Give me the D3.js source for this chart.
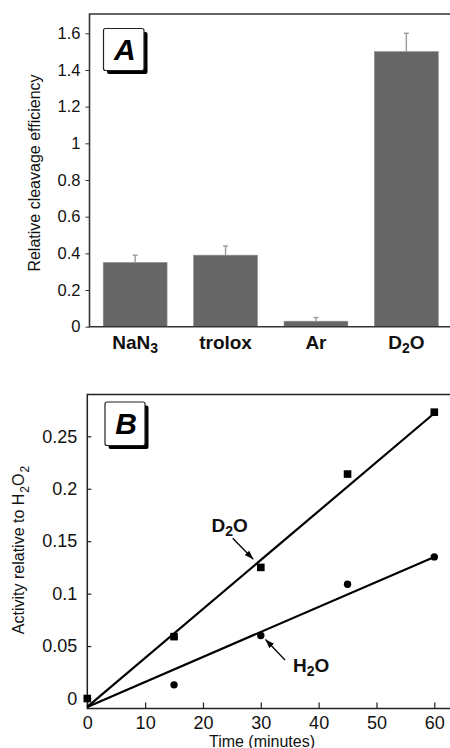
<!DOCTYPE html>
<html lang="en">
<head>
    <meta charset="UTF-8">
    <script src="https://d3js.org/d3.v7.min.js"></script>
    <title>Cleavage efficiency and activity</title>
    <style>
        body { margin: 0; background: #fff; }
        svg { display: block; font-family: "Liberation Sans", Arial, Helvetica, sans-serif; }
    </style>
</head>
<body>
    <div id="chart"></div>
    <script>
        // panel A data
        const categories = ["NaN3", "trolox", "Ar", "D2O"];
        const efficiency = [0.35, 0.39, 0.03, 1.5];
        const efficiencyErr = [0.04, 0.05, 0.02, 0.1];
        const ticksA = [0, 0.2, 0.4, 0.6, 0.8, 1, 1.2, 1.4, 1.6];

        // panel B data
        const times = [0, 15, 30, 45, 60];
        const d2oActivity = [0, 0.059, 0.125, 0.214, 0.273];
        const h2oActivity = [0, 0.013, 0.060, 0.109, 0.135];
        const d2oFit = [[0, -0.008], [60, 0.272]];
        const h2oFit = [[0, -0.008], [60, 0.135]];
        const ticksBy = [0, 0.05, 0.1, 0.15, 0.2, 0.25];
        const ticksBx = [0, 10, 20, 30, 40, 50, 60];

        const W = 450, H = 748;
        const fmt = d => String(+d.toFixed(2));

        const svg = d3.select("#chart").append("svg")
            .attr("width", W)
            .attr("height", H);

        // label with a subscript digit, e.g. "D2O" -> D<sub>2</sub>O
        function subText(sel, label, subSize) {
            const parts = label.match(/[A-Za-z]+|\d/g);
            parts.forEach((p, i) => {
                const isNum = /\d/.test(p);
                const prevNum = i > 0 && /\d/.test(parts[i - 1]);
                const t = sel.append("tspan").text(p);
                if (isNum) t.attr("font-size", subSize).attr("dy", 4);
                else if (prevNum) t.attr("dy", -4);
            });
        }

        function panelLabel(g, x, y, w, h, letter) {
            g.append("rect")
                .attr("x", x + 3.5).attr("y", y + 3.5)
                .attr("width", w).attr("height", h)
                .attr("rx", 2).attr("fill", "#000");
            g.append("rect")
                .attr("x", x).attr("y", y)
                .attr("width", w).attr("height", h)
                .attr("rx", 2).attr("fill", "#fff")
                .attr("stroke", "#222").attr("stroke-width", 1.2);
            g.append("text")
                .attr("x", x + w / 2 + 1).attr("y", y + h / 2 + 10.5)
                .attr("text-anchor", "middle")
                .attr("font-size", 30).attr("font-weight", "bold").attr("font-style", "italic")
                .text(letter);
        }

        // ---------- panel A ----------
        const A = {left: 89.5, top: 14, bottom: 326.7, right: 452};
        const gA = svg.append("g");

        const xA = d3.scaleBand()
            .domain(categories)
            .range([A.left, A.right])
            .paddingInner(0.294)
            .paddingOuter(0.152);
        const yA = d3.scaleLinear()
            .domain([0, 1.6])
            .range([A.bottom, 33.3]);

        gA.selectAll("rect.bar")
            .data(categories)
            .join("rect")
            .attr("class", "bar")
            .attr("x", d => xA(d))
            .attr("width", xA.bandwidth())
            .attr("y", (d, i) => yA(efficiency[i]))
            .attr("height", (d, i) => yA(0) - yA(efficiency[i]))
            .attr("fill", "#666")
            .attr("stroke", "#8a8a8a")
            .attr("stroke-width", 0.6);

        // error bars
        const err = gA.selectAll("g.err")
            .data(categories)
            .join("g")
            .attr("class", "err")
            .attr("stroke", "#9a9a9a")
            .attr("stroke-width", 1.4);
        err.append("line")
            .attr("x1", d => xA(d) + xA.bandwidth() / 2)
            .attr("x2", d => xA(d) + xA.bandwidth() / 2)
            .attr("y1", (d, i) => yA(efficiency[i]))
            .attr("y2", (d, i) => yA(efficiency[i] + efficiencyErr[i]));
        err.append("line")
            .attr("x1", d => xA(d) + xA.bandwidth() / 2 - 2.5)
            .attr("x2", d => xA(d) + xA.bandwidth() / 2 + 2.5)
            .attr("y1", (d, i) => yA(efficiency[i] + efficiencyErr[i]))
            .attr("y2", (d, i) => yA(efficiency[i] + efficiencyErr[i]));

        // frame
        gA.append("path")
            .attr("d", `M${W},${A.top}H${A.left}V${A.bottom}H${W}`)
            .attr("fill", "none")
            .attr("stroke", "#333")
            .attr("stroke-width", 1.6);

        const axA = gA.append("g")
            .attr("transform", `translate(${A.left},0)`)
            .call(d3.axisLeft(yA).tickValues(ticksA).tickFormat(fmt).tickSize(4).tickPadding(5));
        axA.select(".domain").remove();
        axA.selectAll(".tick line").attr("stroke", "#333");
        axA.selectAll(".tick text")
            .attr("font-family", null)
            .attr("font-size", 16.5)
            .attr("fill", "#111");

        gA.selectAll("text.cat")
            .data(categories)
            .join("text")
            .attr("class", "cat")
            .attr("x", d => xA(d) + xA.bandwidth() / 2)
            .attr("y", 349.3)
            .attr("text-anchor", "middle")
            .attr("font-size", 19)
            .attr("font-weight", "bold")
            .attr("fill", "#111")
            .each(function (d) { subText(d3.select(this), d, 14); });

        gA.append("text")
            .attr("transform", `translate(40,173) rotate(-90)`)
            .attr("text-anchor", "middle")
            .attr("font-size", 16)
            .attr("fill", "#111")
            .text("Relative cleavage efficiency");

        panelLabel(gA, 103.5, 28.5, 40.5, 42, "A");

        // ---------- panel B ----------
        const B = {left: 87.3, top: 394.5, bottom: 708.5};
        const gB = svg.append("g");

        const xB = d3.scaleLinear()
            .domain([0, 60])
            .range([87.3, 434.3]);
        const yB = d3.scaleLinear()
            .domain([0, 0.25])
            .range([698.5, 436.3]);

        gB.append("path")
            .attr("d", `M${W},${B.top}H${B.left}V${B.bottom}H${W}`)
            .attr("fill", "none")
            .attr("stroke", "#222")
            .attr("stroke-width", 1.5);

        const axBy = gB.append("g")
            .attr("transform", `translate(${B.left},0)`)
            .call(d3.axisLeft(yB).tickValues(ticksBy).tickFormat(fmt).tickSize(-4).tickPadding(10));
        axBy.select(".domain").remove();

        const axBx = gB.append("g")
            .attr("transform", `translate(0,${B.bottom})`)
            .call(d3.axisBottom(xB).tickValues(ticksBx).tickFormat(fmt).tickSize(-6).tickPadding(7.6));
        axBx.select(".domain").remove();

        gB.selectAll(".tick line").attr("stroke", "#222").attr("stroke-width", 1.2);
        gB.selectAll(".tick text")
            .attr("font-family", null)
            .attr("font-size", 18)
            .attr("fill", "#111");

        const line = d3.line()
            .x(d => xB(d[0]))
            .y(d => yB(d[1]));

        [d2oFit, h2oFit].forEach(f => {
            gB.append("path")
                .datum(f)
                .attr("d", line)
                .attr("fill", "none")
                .attr("stroke", "#000")
                .attr("stroke-width", 2.2);
        });

        gB.selectAll("rect.sq")
            .data(times)
            .join("rect")
            .attr("class", "sq")
            .attr("x", d => xB(d) - 3.8)
            .attr("y", (d, i) => yB(d2oActivity[i]) - 3.8)
            .attr("width", 7.6)
            .attr("height", 7.6)
            .attr("fill", "#000");

        gB.selectAll("circle.pt")
            .data(times.slice(1))
            .join("circle")
            .attr("class", "pt")
            .attr("cx", d => xB(d))
            .attr("cy", (d, i) => yB(h2oActivity[i + 1]))
            .attr("r", 3.7)
            .attr("fill", "#000");

        // annotations
        const defs = svg.append("defs");
        defs.append("marker")
            .attr("id", "arrow")
            .attr("viewBox", "0 0 10 10")
            .attr("refX", 10).attr("refY", 5)
            .attr("markerWidth", 9).attr("markerHeight", 9)
            .attr("markerUnits", "userSpaceOnUse")
            .attr("orient", "auto")
            .append("path")
            .attr("d", "M0,1.5L10,5L0,8.5Z")
            .attr("fill", "#000");

        gB.append("line")
            .attr("x1", 232.7).attr("y1", 538.3)
            .attr("x2", 253.3).attr("y2", 559.3)
            .attr("stroke", "#000").attr("stroke-width", 1.3)
            .attr("marker-end", "url(#arrow)");
        gB.append("line")
            .attr("x1", 285).attr("y1", 660)
            .attr("x2", 265.5).attr("y2", 639.5)
            .attr("stroke", "#000").attr("stroke-width", 1.3)
            .attr("marker-end", "url(#arrow)");

        const lblD = gB.append("text")
            .attr("x", 211.5).attr("y", 531.7)
            .attr("font-size", 19).attr("font-weight", "bold").attr("fill", "#111");
        subText(lblD, "D2O", 14);
        const lblH = gB.append("text")
            .attr("x", 293).attr("y", 671.7)
            .attr("font-size", 19).attr("font-weight", "bold").attr("fill", "#111");
        subText(lblH, "H2O", 14);

        // y title with subscripts
        const yt = gB.append("text")
            .attr("transform", `translate(24,550) rotate(-90)`)
            .attr("text-anchor", "middle")
            .attr("font-size", 16)
            .attr("fill", "#111");
        yt.append("tspan").text("Activity relative to H");
        yt.append("tspan").attr("font-size", 12).attr("dy", 5).attr("dx", 1).text("2");
        yt.append("tspan").attr("dy", -5).text("O");
        yt.append("tspan").attr("font-size", 12).attr("dy", 5).attr("dx", 1).text("2");

        gB.append("text")
            .attr("x", 262).attr("y", 746.5)
            .attr("text-anchor", "middle")
            .attr("font-size", 16)
            .attr("fill", "#111")
            .text("Time (minutes)");

        panelLabel(gB, 105, 402, 40, 43.5, "B");
    </script>
</body>
</html>
